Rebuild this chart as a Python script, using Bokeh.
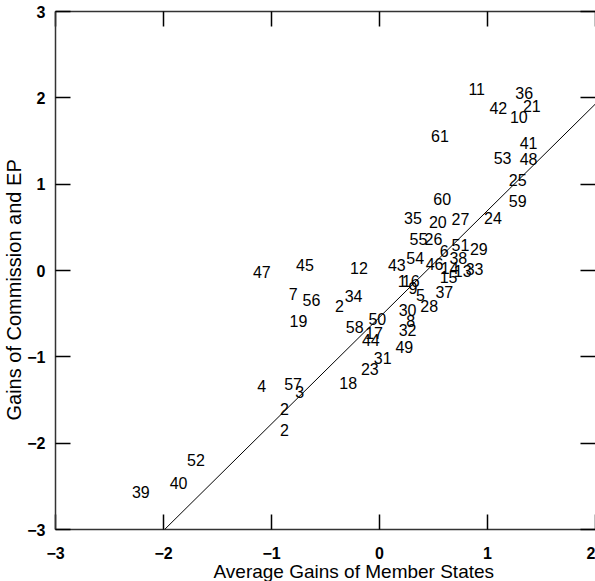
from bokeh.plotting import figure
from bokeh.models import LinearAxis, ColumnDataSource, FixedTicker, Title
from bokeh.core.properties import value
from bokeh.embed import file_html
from bokeh.resources import INLINE

# Case labels and their positions (average gains of member states, gains of Commission and EP)
case_labels = ["11", "36", "42", "21", "10", "61", "41", "53", "48", "25",
               "59", "60", "35", "20", "27", "24", "55", "26", "51", "29",
               "6", "54", "38", "46", "14", "13", "33", "15", "43", "12",
               "45", "47", "1", "16", "9", "5", "37", "28", "30", "8",
               "32", "49", "50", "58", "17", "44", "31", "23", "18", "7",
               "56", "34", "2", "19", "4", "57", "3", "2", "2", "52",
               "40", "39"]
member_gains = [0.90, 1.34, 1.10, 1.41, 1.29, 0.56, 1.38, 1.14, 1.38, 1.28,
                1.28, 0.58, 0.31, 0.54, 0.75, 1.05, 0.36, 0.50, 0.75, 0.92,
                0.60, 0.33, 0.73, 0.51, 0.65, 0.77, 0.88, 0.64, 0.16, -0.19,
                -0.69, -1.09, 0.21, 0.29, 0.31, 0.38, 0.60, 0.46, 0.26, 0.29,
                0.26, 0.23, -0.02, -0.23, -0.05, -0.08, 0.03, -0.09, -0.29, -0.80,
                -0.63, -0.24, -0.37, -0.75, -1.09, -0.80, -0.74, -0.88, -0.88, -1.70,
                -1.86, -2.21]
commission_gains = [2.10, 2.06, 1.88, 1.91, 1.78, 1.56, 1.48, 1.30, 1.29, 1.05,
                    0.81, 0.83, 0.61, 0.56, 0.60, 0.61, 0.37, 0.37, 0.29, 0.25,
                    0.23, 0.14, 0.14, 0.08, 0.03, 0.00, 0.02, -0.08, 0.06, 0.03,
                    0.06, -0.02, -0.12, -0.12, -0.20, -0.28, -0.25, -0.41, -0.46, -0.58,
                    -0.69, -0.89, -0.56, -0.66, -0.72, -0.81, -1.01, -1.14, -1.30, -0.27,
                    -0.34, -0.29, -0.41, -0.58, -1.34, -1.31, -1.41, -1.60, -1.85, -2.20,
                    -2.46, -2.57]

# Fitted line end points
fit_x = [-1.99, 2.0]
fit_y = [-3.0, 1.93]

x_ticks = [-3, -2, -1, 0, 1, 2]
y_ticks = [-3, -2, -1, 0, 1, 2, 3]
x_title = "Average Gains of Member States"
y_title = "Gains of Commission and EP"

p = figure(width=595, height=581, output_backend="svg", toolbar_location=None,
           x_range=(-3, 2), y_range=(-3, 3),
           min_border_left=53, min_border_right=0, min_border_top=11, min_border_bottom=52)
p.outline_line_color = None
p.xgrid.grid_line_color = None
p.ygrid.grid_line_color = None
p.background_fill_color = "white"
p.border_fill_color = "white"

def style_axis(ax, labels=True, line=True):
    ax.major_tick_in = 15
    ax.major_tick_out = 0
    ax.minor_tick_in = 0
    ax.minor_tick_out = 0
    ax.major_tick_line_color = "black"
    ax.major_tick_line_width = 1.5
    ax.axis_line_color = "#333333" if line else None
    ax.axis_line_width = 1.5
    ax.major_label_text_font = "Liberation Sans"
    ax.major_label_text_font_style = "bold"
    ax.major_label_text_font_size = "16px"
    ax.major_label_text_color = "black"
    if not labels:
        ax.major_label_overrides = {t: "" for t in ax.ticker.ticks}
        ax.major_label_standoff = 0

xa = p.xaxis[0]
ya = p.yaxis[0]
xa.ticker = FixedTicker(ticks=x_ticks)
ya.ticker = FixedTicker(ticks=y_ticks)
style_axis(xa)
style_axis(ya)
xa.major_label_standoff = 17
ya.major_label_standoff = 10

top = LinearAxis(ticker=FixedTicker(ticks=x_ticks))
style_axis(top, labels=False)
p.add_layout(top, "above")
right = LinearAxis(ticker=FixedTicker(ticks=y_ticks))
style_axis(right, labels=False, line=False)
p.add_layout(right, "right")

p.line(fit_x, fit_y, line_color="black", line_width=1)

src = ColumnDataSource(dict(x=member_gains, y=commission_gains, t=case_labels))
p.text(x="x", y="y", text="t", source=src, text_align="center", text_baseline="middle",
       text_font=value("Liberation Sans"), text_font_size="16px", text_color="black")

p.add_layout(Title(text=x_title, align="left", offset=158, standoff=-6,
                   text_font="Liberation Sans", text_font_size="19px",
                   text_font_style="normal", text_color="black"), "below")
p.add_layout(Title(text=y_title, align="left", offset=109, standoff=0,
                   text_font="Liberation Sans", text_font_size="20px",
                   text_font_style="normal", text_color="black"), "left")

open("out.html", "w").write(file_html(p, INLINE))
